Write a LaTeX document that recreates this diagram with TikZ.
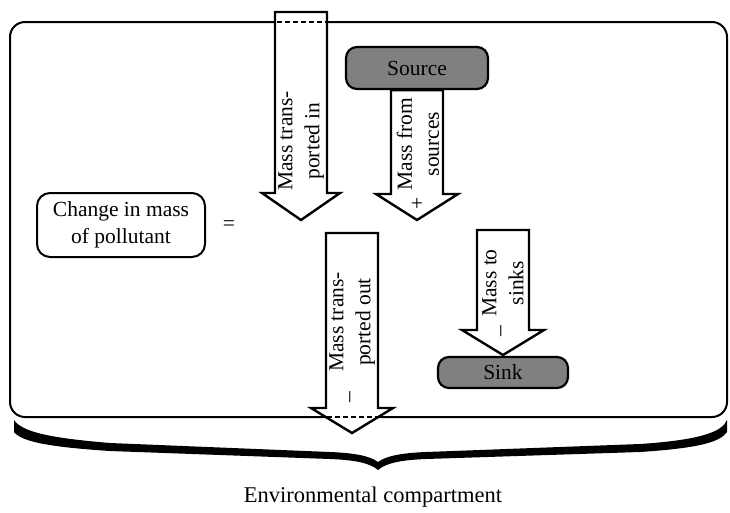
\documentclass[tikz,border=0pt]{standalone}
\usepackage{fontspec}
\setmainfont{Liberation Serif}
\definecolor{boxgray}{HTML}{808080}
\begin{document}
\begin{tikzpicture}[x=1pt,y=-1pt,
  lbl/.style={font=\fontsize{21.5}{27}\selectfont, align=center, inner sep=0pt},
  bnd/.style={draw=black, line width=2pt, rounded corners=15pt},
  agent/.style={draw=black, line width=2.2pt, rounded corners=11pt, fill=boxgray,
    font=\fontsize{21.5}{27}\selectfont, inner sep=0pt},
  blockarrow/.style={draw=black, line width=2.4pt, fill=white, line join=miter},
  gap/.style={line width=2pt, dash pattern=on 5pt off 3pt}]
\useasboundingbox (0,0) rectangle (730,512);

% compartment boundary
\draw[bnd] (10,22) rectangle (727,417);

% source and sink
\node[agent, minimum width=142pt, minimum height=42pt] (src) at (417,68) {Source};
\node[agent, minimum width=130pt, minimum height=31pt] (snk) at (503,372.5) {Sink};

% left-hand side of the balance
\node[draw, line width=2pt, rounded corners=13pt, minimum width=168pt, minimum height=64pt,
  font=\fontsize{21.5}{27}\selectfont, align=center, inner sep=0pt] (chg) at (121,225)
  {Change in mass\\of pollutant};
\node[lbl] (eq) at (229,226) {=};

% transported in (crosses the upper boundary)
\draw[blockarrow] (275,12) -- (327,12) -- (327,193) -- (340,193) -- (301,220)
  -- (262,193) -- (275,193) -- cycle;
\draw[gap] (276.5,22) -- (325.5,22);
\node[lbl, rotate=90] (t1) at (301,141) {Mass trans-\\ported in};

% from sources
\draw[blockarrow] (src.south -| 391,0) -- (src.south -| 443,0) -- (443,194) -- (458,194)
  -- (417,220) -- (376,194) -- (391,194) -- cycle;
\node[lbl, rotate=90] (t2) at (418,144) {Mass from\\sources};
\node[lbl] (p2) at (417,204) {+};

% transported out (crosses the lower boundary)
\draw[blockarrow] (326,233) -- (378,233) -- (378,408) -- (393,408) -- (352,433)
  -- (311,408) -- (326,408) -- cycle;
\draw[gap] (327,417) -- (377,417);
\node[lbl, rotate=90] (t3) at (352,322) {Mass trans-\\ported out};
\node[lbl, rotate=90] (m3) at (352,397) {–};

% to sinks
\draw[blockarrow] (477,230) -- (529,230) -- (529,330) -- (544,330) -- (503,355)
  -- (462,330) -- (477,330) -- cycle;
\node[lbl, rotate=90] (t4) at (503,283) {Mass to\\sinks};
\node[lbl, rotate=90] (m4) at (503,331) {–};

% brace under the compartment, left and right halves
\fill (14,420) -- (14,432) .. controls (22,442) and (50,447) .. (110,451) -- (330,459)
  .. controls (355,460) and (370,463) .. (378,470) -- (378,462)
  .. controls (370,456) and (355,453) .. (330,452) -- (110,443)
  .. controls (50,438) and (22,432) .. (14,420) -- cycle;
\fill (378,462) .. controls (386,456) and (401,453) .. (426,452) -- (640,444)
  .. controls (700,440) and (722,432) .. (727,420) -- (727,432)
  .. controls (720,442) and (700,448) .. (640,452) -- (426,459)
  .. controls (401,460) and (386,463) .. (378,470) -- cycle;
\node[lbl, font=\fontsize{22.5}{27}\selectfont] (env) at (373,497) {Environmental compartment};
\end{tikzpicture}
\end{document}
